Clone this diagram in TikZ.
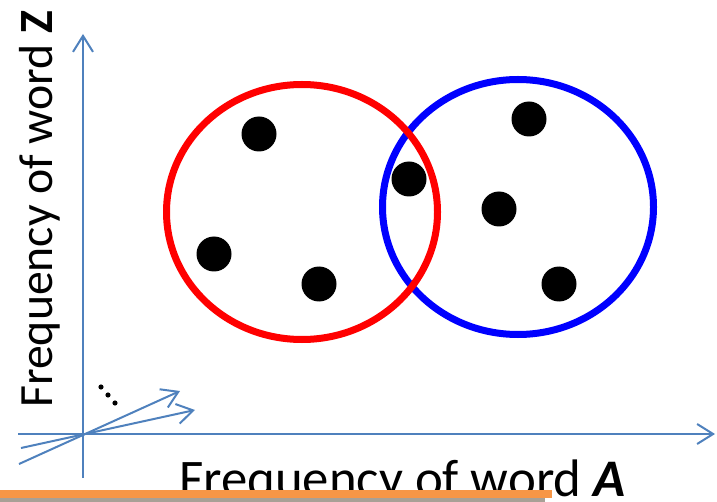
\documentclass[tikz,border=0pt]{standalone}
\usepackage{fontspec}
\setmainfont{Carlito}
\usetikzlibrary{arrows.meta}
\definecolor{axisblue}{RGB}{79,129,189}
\definecolor{barorange}{RGB}{247,150,70}
\definecolor{bargrey}{RGB}{168,160,150}

\begin{document}
\begin{tikzpicture}[
    x=0.75pt, y=-0.75pt,
    axis/.style={draw=axisblue, line width=1.5pt, -{Straight Barb[length=12pt, width=15pt, line width=1.5pt]}},
    cluster/.style={line width=5.25pt, x radius=135.5, y radius=127.5},
    doc/.style={fill=black},
]
    \useasboundingbox (0,0) rectangle (717,502);

    % axes and further dimensions
    \coordinate (O) at (83,434);
    \draw[axis] (83,478) -- (83,34);
    \draw[axis] (18,434) -- (715,434);
    \draw[axis] (19,464) -- (180,391);
    \draw[axis] (21,448) -- (195,410);
    \foreach \p in {(101,387), (108,395), (115,403)}
        \fill \p circle[radius=2.6];

    % axis labels
    \node[anchor=base west, rotate=90, inner sep=0pt, font=\fontsize{35.8}{36}\selectfont]
        (zlabel) at (52,408) {Frequency of word \textbf{Z}};
    \node[anchor=base west, inner sep=0pt, font=\fontsize{39.6}{40}\selectfont]
        (alabel) at (179,496) {Frequency of word \textbf{\textit{A}}};

    % clusters
    \draw[cluster, blue] (518,207) circle;
    \draw[cluster, red] (302,212) circle;

    % documents
    \foreach \p in {(259,134), (214,254), (319,284), (409,179), (499,209), (529,119), (559,284)}
        \fill[doc] \p circle[radius=17.5];

    % bar at the bottom
    \fill[barorange] (0,490) rectangle (552,498);
    \fill[bargrey] (0,498) rectangle (545,502);
\end{tikzpicture}
\end{document}
